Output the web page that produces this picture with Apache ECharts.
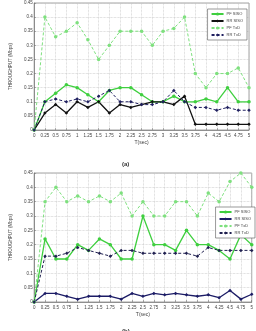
<!DOCTYPE html>
<html lang="en">
<head>
    <meta charset="UTF-8">
    <style>
        html, body { margin: 0; padding: 0; background: #fff; }
        #main { width: 256px; height: 331px; }
    </style>
    <script src="https://cdn.jsdelivr.net/npm/echarts@6/dist/echarts.min.js"></script>
</head>
<body>
    <div id="main"></div>
    <script>
        // time axis, T(sec)
        var times = [0, 0.25, 0.5, 0.75, 1, 1.25, 1.5, 1.75, 2, 2.25, 2.5, 2.75, 3, 3.25, 3.5, 3.75, 4, 4.25, 4.5, 4.75, 5];
        var seriesNames = ['PF SISO', 'RR SISO', 'PF TxD', 'RR TxD'];

        // chart (a)
        var pfSisoA = [0, 0.10, 0.13, 0.16, 0.15, 0.125, 0.10, 0.14, 0.15, 0.15, 0.125, 0.10, 0.10, 0.12, 0.10, 0.10, 0.11, 0.10, 0.15, 0.10, 0.10];
        var rrSisoA = [0, 0.06, 0.09, 0.06, 0.10, 0.08, 0.10, 0.06, 0.09, 0.08, 0.09, 0.10, 0.10, 0.09, 0.12, 0.02, 0.02, 0.02, 0.02, 0.02, 0.02];
        var pfTxdA = [0, 0.40, 0.33, 0.35, 0.38, 0.32, 0.25, 0.30, 0.35, 0.35, 0.35, 0.30, 0.35, 0.36, 0.40, 0.20, 0.15, 0.20, 0.20, 0.22, 0.15];
        var rrTxdA = [0, 0.10, 0.11, 0.10, 0.11, 0.10, 0.12, 0.14, 0.10, 0.10, 0.09, 0.09, 0.10, 0.14, 0.10, 0.08, 0.08, 0.07, 0.08, 0.07, 0.07];

        // chart (b)
        var pfSisoB = [0, 0.22, 0.15, 0.15, 0.20, 0.18, 0.22, 0.20, 0.15, 0.15, 0.30, 0.20, 0.20, 0.18, 0.25, 0.20, 0.20, 0.18, 0.15, 0.235, 0.20];
        var rrSisoB = [0, 0.03, 0.03, 0.02, 0.01, 0.02, 0.02, 0.02, 0.01, 0.03, 0.02, 0.03, 0.025, 0.03, 0.025, 0.02, 0.025, 0.015, 0.04, 0.01, 0.027];
        var pfTxdB = [0, 0.35, 0.40, 0.35, 0.37, 0.35, 0.37, 0.35, 0.38, 0.30, 0.35, 0.30, 0.30, 0.35, 0.35, 0.30, 0.38, 0.35, 0.42, 0.45, 0.40];
        var rrTxdB = [0, 0.16, 0.16, 0.17, 0.19, 0.18, 0.17, 0.16, 0.18, 0.18, 0.17, 0.17, 0.17, 0.17, 0.17, 0.16, 0.19, 0.18, 0.18, 0.18, 0.18];

        var FONT = 'Liberation Sans';

        function pairs(vals) {
            return times.map(function (t, i) { return [t, vals[i]]; });
        }

        function xAxisFor(idx) {
            return {
                type: 'value', gridIndex: idx, min: 0, max: 5, interval: 0.25,
                name: 'T(sec)', nameLocation: 'middle', nameGap: 10,
                nameTextStyle: { fontSize: 5, color: '#444', fontFamily: FONT },
                axisLine: { lineStyle: { color: '#666', width: 0.6 } },
                axisTick: { inside: true, length: 2, lineStyle: { color: '#666', width: 0.5 } },
                axisLabel: { fontSize: 4.5, color: '#444', margin: 3, fontFamily: FONT },
                splitLine: { show: true, lineStyle: { color: '#c4c4c4', type: 'dotted', width: 0.7 } }
            };
        }

        function yAxisFor(idx) {
            return {
                type: 'value', gridIndex: idx, min: 0, max: 0.45, interval: 0.05,
                name: 'THROUGHPUT (Mbps)', nameLocation: 'middle', nameGap: 8,
                nameTextStyle: { fontSize: 4.5, color: '#444', fontFamily: FONT },
                axisLine: { show: true, lineStyle: { color: '#666', width: 0.6 } },
                axisTick: { show: true, inside: true, length: 2, lineStyle: { color: '#666', width: 0.5 } },
                axisLabel: {
                    fontSize: 4.5, color: '#444', margin: 1.5, fontFamily: FONT,
                    formatter: function (v) { return String(parseFloat(v.toFixed(2))); }
                },
                splitLine: { show: true, lineStyle: { color: '#c4c4c4', type: 'dotted', width: 0.7 } }
            };
        }

        function line(name, idx, vals, color, dashed, symbol) {
            return {
                name: name, type: 'line', xAxisIndex: idx, yAxisIndex: idx,
                data: pairs(vals), symbol: symbol, symbolSize: 3.5,
                lineStyle: { color: color, width: dashed ? 1 : 1.3, type: dashed ? [3, 2] : 'solid' },
                itemStyle: { color: color },
                animation: false
            };
        }

        function legendFor(right, top, colors) {
            return {
                orient: 'vertical', right: right, top: top, itemGap: 3,
                itemWidth: 12, itemHeight: 4, padding: [3, 4, 3, 3],
                backgroundColor: '#fff', borderColor: '#555', borderWidth: 0.6,
                textStyle: { fontSize: 4, color: '#444', fontFamily: FONT, padding: [0, 0, 0, -2] },
                data: seriesNames.map(function (n, i) {
                    return { name: n, itemStyle: { color: colors[i] }, lineStyle: { color: colors[i] } };
                })
            };
        }

        var green = '#3fcf3f';
        var lightGreen = '#7ee07e';
        var colorsA = [green, '#111111', lightGreen, '#202060'];
        var colorsB = [green, '#1c1c66', lightGreen, '#202050'];

        var option = {
            backgroundColor: '#fff',
            animation: false,
            title: [
                { text: '(a)', left: 117, top: 156, textStyle: { fontSize: 6, fontWeight: 'bold', color: '#333', fontFamily: FONT } },
                { text: '(b)', left: 117, top: 323, textStyle: { fontSize: 6, fontWeight: 'bold', color: '#333', fontFamily: FONT } }
            ],
            grid: [
                { left: 12, top: 3, width: 237, height: 127, show: true, borderColor: '#666', borderWidth: 0.6, backgroundColor: '#fff' },
                { left: 14, top: 173, width: 241, height: 129, show: true, borderColor: '#666', borderWidth: 0.6, backgroundColor: '#fff' }
            ],
            xAxis: [xAxisFor(0), xAxisFor(1)],
            yAxis: [yAxisFor(0), yAxisFor(1)],
            legend: [legendFor(9, 9, colorsA), legendFor(1, 207, colorsB)],
            series: [
                line('PF SISO', 0, pfSisoA, colorsA[0], false, 'circle'),
                line('RR SISO', 0, rrSisoA, colorsA[1], false, 'diamond'),
                line('PF TxD', 0, pfTxdA, colorsA[2], true, 'circle'),
                line('RR TxD', 0, rrTxdA, colorsA[3], true, 'diamond'),
                line('PF SISO', 1, pfSisoB, colorsB[0], false, 'circle'),
                line('RR SISO', 1, rrSisoB, colorsB[1], false, 'diamond'),
                line('PF TxD', 1, pfTxdB, colorsB[2], true, 'circle'),
                line('RR TxD', 1, rrTxdB, colorsB[3], true, 'diamond')
            ]
        };

        var myChart = echarts.init(document.getElementById('main'));
        myChart.setOption(option);
    </script>
</body>
</html>
